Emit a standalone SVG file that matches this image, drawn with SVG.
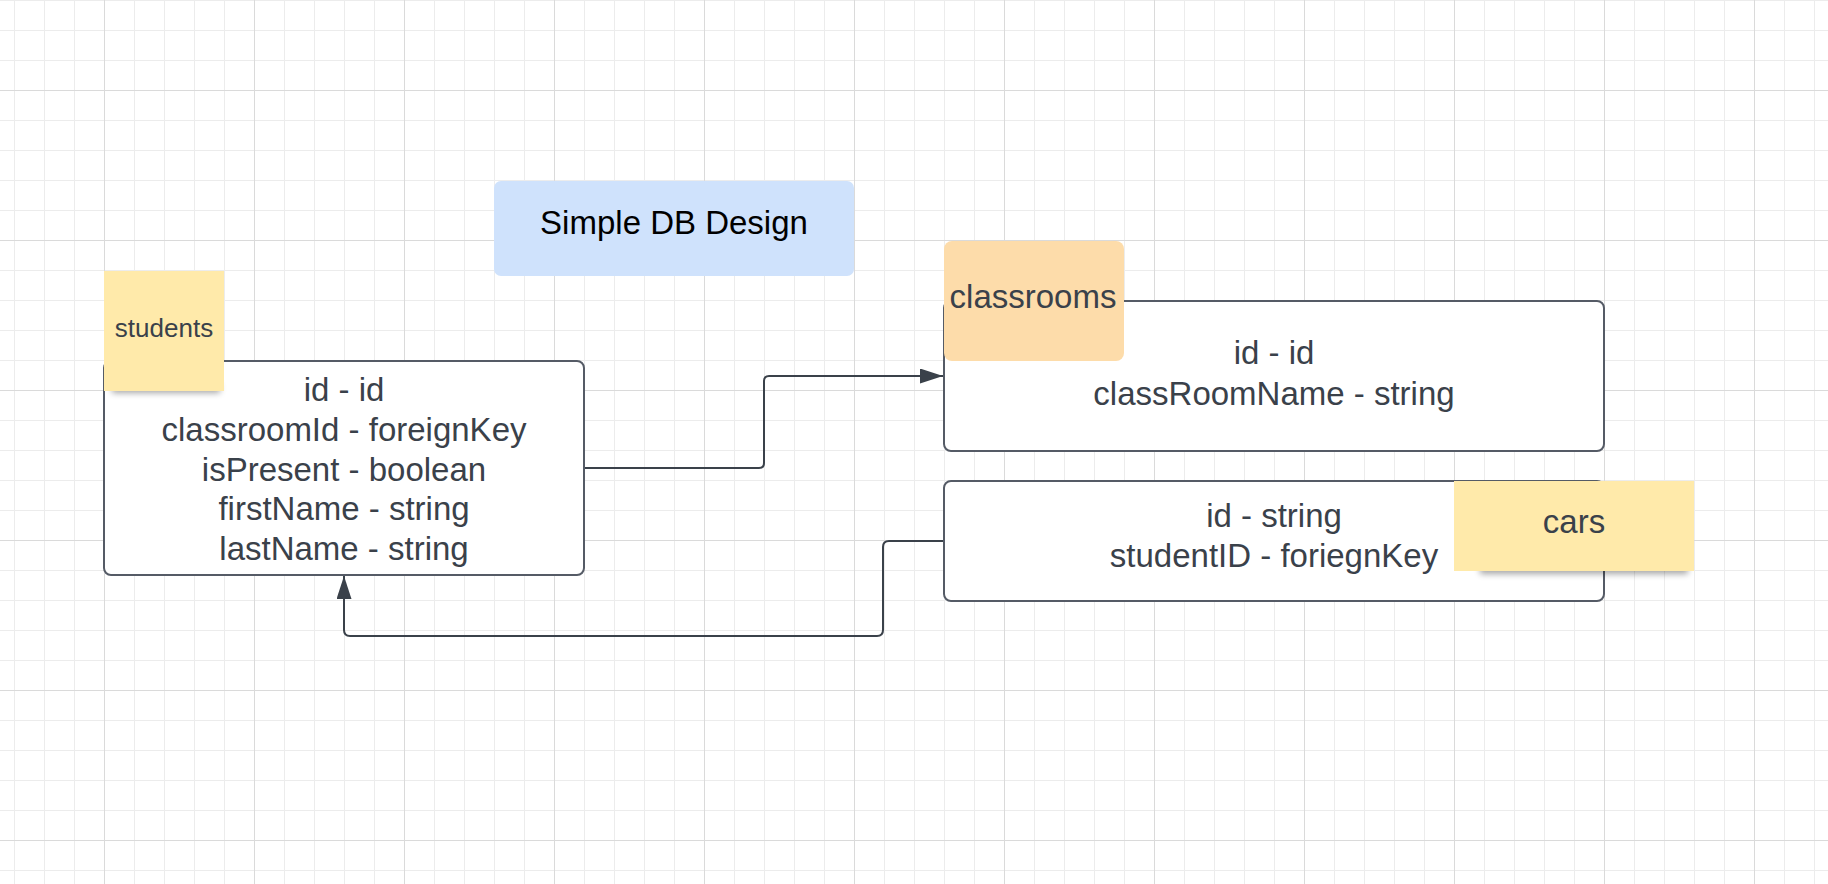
<svg xmlns="http://www.w3.org/2000/svg" width="1828" height="884" viewBox="0 0 1828 884">
<style>
.box{fill:#ffffff;stroke:#555b66;stroke-width:2}
.fld{font-family:"Liberation Sans",Arial,sans-serif;font-size:33px;fill:#3a414a;text-anchor:middle}
.note{font-family:"Liberation Sans",Arial,sans-serif;fill:#3a414a;text-anchor:middle}
.conn{fill:none;stroke:#3a414a;stroke-width:2;stroke-linejoin:round}
.yellow{fill:#ffeaaa}
</style>
<defs>
<pattern id="gMinor" width="30" height="30" patternUnits="userSpaceOnUse" x="14" y="0">
<path d="M0.5,0V30M0,0.5H30" stroke="#ececec" stroke-width="1" fill="none"/>
</pattern>
<pattern id="gMajor" width="150" height="150" patternUnits="userSpaceOnUse" x="104" y="90">
<path d="M0.5,0V150M0,0.5H150" stroke="#dadada" stroke-width="1" fill="none"/>
</pattern>
<marker id="arr" markerWidth="23" markerHeight="15" refX="23" refY="7.5" orient="auto" markerUnits="userSpaceOnUse">
<path d="M0,0L23,7.5L0,15Z" fill="#3a414a"/>
</marker>
<filter id="blur" x="-20%" y="-100%" width="140%" height="300%">
<feGaussianBlur stdDeviation="3"/>
</filter>
</defs>
<rect width="1828" height="884" fill="#ffffff"/>
<rect width="1828" height="884" fill="url(#gMinor)"/>
<rect width="1828" height="884" fill="url(#gMajor)"/>

<g id="connectors">
<path class="conn" d="M584,468H759Q764,468 764,463V381Q764,376 769,376H943" marker-end="url(#arr)"/>
<path class="conn" d="M944,541H889Q883,541 883,547V630Q883,636 877,636H350Q344,636 344,630V576" marker-end="url(#arr)"/>
</g>

<g id="title">
<rect x="494" y="181" width="360" height="95" rx="7" fill="#cfe2fc"/>
<text x="674" y="234" font-family="'Liberation Sans',Arial,sans-serif" font-size="33" fill="#000000" text-anchor="middle">Simple DB Design</text>
</g>

<g id="students">
<rect class="box" x="104" y="361" width="480" height="214" rx="7"/>
<text class="fld" x="344" y="401">id - id</text>
<text class="fld" x="344" y="441">classroomId - foreignKey</text>
<text class="fld" x="344" y="481">isPresent - boolean</text>
<text class="fld" x="344" y="520">firstName - string</text>
<text class="fld" x="344" y="560">lastName - string</text>
</g>

<g id="students-note">
<rect x="112" y="384" width="108" height="9" fill="#000" opacity="0.35" filter="url(#blur)"/>
<rect class="yellow" x="104" y="271" width="120" height="120"/>
<text class="note" x="164" y="337" font-size="26">students</text>
</g>

<g id="classrooms">
<rect class="box" x="944" y="301" width="660" height="150" rx="7"/>
<text class="fld" x="1274" y="364">id - id</text>
<text class="fld" x="1274" y="405">classRoomName - string</text>
</g>

<g id="classrooms-note">
<rect x="944" y="241" width="180" height="120" rx="8" fill="#fddcaa"/>
<text class="note" x="1033" y="308" font-size="33">classrooms</text>
</g>

<g id="cars">
<rect class="box" x="944" y="481" width="660" height="120" rx="7"/>
<text class="fld" x="1274" y="527">id - string</text>
<text class="fld" x="1274" y="567">studentID - foriegnKey</text>
</g>

<g id="cars-note">
<rect x="1480" y="564" width="208" height="10" fill="#000" opacity="0.35" filter="url(#blur)"/>
<rect class="yellow" x="1454" y="481" width="240" height="90"/>
<text class="note" x="1574" y="533" font-size="33">cars</text>
</g>
</svg>
